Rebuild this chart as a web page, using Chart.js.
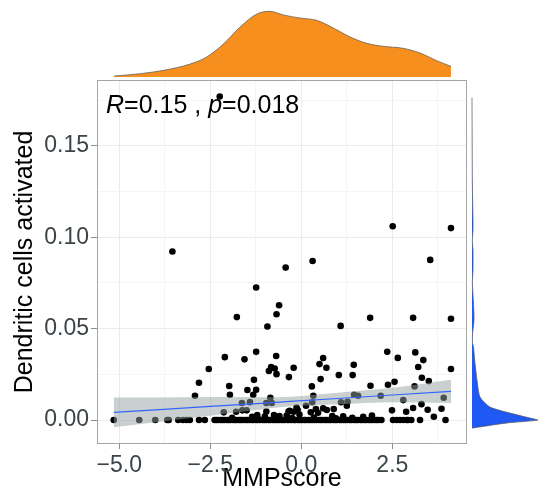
<!DOCTYPE html>
<html>
<head>
<meta charset="utf-8">
<title>MMPscore vs Dendritic cells activated</title>
<script src="https://cdn.jsdelivr.net/npm/chart.js@4.4.0/dist/chart.umd.min.js"></script>
<style>
    html, body { margin: 0; padding: 0; background: #fff; }
    #wrap { position: relative; width: 538px; height: 504px; overflow: hidden; }
    #wrap canvas { position: absolute; }
    #mainChart { left: 0; top: 0; }
    #topChart { left: 97px; top: 0; }
    #sideChart { left: 471px; top: 80px; }
</style>
</head>
<body>
<div id="wrap">
    <canvas id="mainChart" width="538" height="504"></canvas>
    <canvas id="topChart" width="370" height="77"></canvas>
    <canvas id="sideChart" width="67" height="364"></canvas>
</div>
<script>
// Scatter: samples (MMPscore, Dendritic cells activated)
const pointsX = [
    -2.24, -3.54, 2.51, 4.11, -0.43, 0.31, 3.54, -1.24, -0.61, -0.68, -1.77, -0.93, 1.08, 1.89, 3.07, 4.11,
    -2.10, -1.56, -1.24, -0.69, -2.54, -0.83, -0.73, -0.89, -0.68, -0.34, -2.81, -1.30, -1.98, -2.92, -1.96,
    -1.48, -1.24, -1.32, -0.85, -1.63, -1.41, -0.96, -0.81,
    2.36, 2.65, 3.13, 3.35, 3.21, 4.11, 0.60, 0.50, 0.69, -0.21, 0.53, 1.03, 1.44, 1.41, 0.29, 0.33, 1.90,
    2.38, 2.56, 3.11, 3.31, 3.50, 1.45, 1.56, 2.18, 2.80, 3.91, 1.09, 1.27, 1.25, 0.30, 0.13, 3.30, 3.07,
    3.47, 3.85, 2.49, 2.88, 3.64, 1.94,
    -2.13, -1.79, -1.62, -1.50, -1.21, -0.96, -0.35, 0.60, 0.89, -0.32, -0.21, -0.10, -0.13, 0.26, 0.46,
    0.40, 0.70, -0.60, -0.40, -1.00, -0.75, -1.35, -0.05, 0.85, 1.15, 1.70,
    -5.15, -4.45, -4.01, -3.68, -3.64, -3.38, -3.25, -3.15, -3.06, -2.81, -2.65,
    -2.38, -2.33, -2.28, -2.21, -2.16, -2.11, -2.04, -1.99, -1.94, -1.87, -1.82, -1.77, -1.70, -1.66, -1.60,
    -1.53, -1.48, -1.42, -1.35, -1.31, -1.24, -1.19, -1.13, -1.06, -1.01, -0.96, -0.89, -0.85, -0.78, -0.72,
    -0.67, -0.62, -0.55, -0.50, -0.45, -0.38, -0.33, -0.27, -0.20, -0.16, -0.09, -0.04, 0.02, 0.08, 0.12,
    0.19, 0.25, 0.30, 0.36, 0.41, 0.48, 0.53, 0.58, 0.65, 0.70, 0.76, 0.81, 0.88, 0.93, 0.98, 1.05, 1.10,
    1.16, 1.21, 1.27, 1.33, 1.38, 1.45, 1.50, 1.55, 1.62, 1.67, 1.73, 1.78, 1.85, 1.90, 1.95, 2.02, 2.07,
    2.13, 2.20, 2.52, 2.62, 2.71, 2.80, 2.89, 2.93, 3.02, 3.26, 3.96,
    -1.90, -1.20, -0.70, -0.25, 0.35, 0.95, 1.40
];
const pointsY = [
    0.177, 0.0922, 0.106, 0.105, 0.0834, 0.087, 0.0876, 0.0725, 0.0628, 0.0579, 0.0563, 0.0512, 0.0515, 0.0559, 0.0559, 0.0554,
    0.0344, 0.0332, 0.0373, 0.0350, 0.0279, 0.0290, 0.0282, 0.0268, 0.0251, 0.0235, 0.0204, 0.0220, 0.0186, 0.0133, 0.0138,
    0.0164, 0.0166, 0.0138, 0.0122, 0.0093, 0.0098, 0.0093, 0.0093,
    0.0373, 0.0340, 0.0370, 0.0328, 0.0290, 0.0279, 0.0339, 0.0306, 0.0286, 0.0286, 0.0224, 0.0246, 0.0302, 0.0246, 0.0184, 0.0133, 0.0188,
    0.0193, 0.0209, 0.0184, 0.0231, 0.0213, 0.0138, 0.0133, 0.0133, 0.0109, 0.0122, 0.0097, 0.0100, 0.0078, 0.0097, 0.0078, 0.0087, 0.0066,
    0.0056, 0.0062, 0.0053, 0.0045, 0.0018, 0.0025,
    0.0042, 0.0045, 0.0053, 0.0053, 0.0027, 0.0047, 0.0047, 0.0064, 0.0060, 0.0050, 0.0045, 0.0055, 0.0068, 0.0042, 0.0040,
    0.0060, 0.0055, 0.0022, 0.0025, 0.0020, 0.0028, 0.0018, 0.0030, 0.0022, 0.0020, 0.0018,
    0, 0, 0, 0, 0, 0, 0, 0, 0, 0, 0,
    0, 0, 0, 0, 0, 0, 0, 0, 0, 0, 0, 0, 0, 0, 0,
    0, 0, 0, 0, 0, 0, 0, 0, 0, 0, 0, 0, 0, 0, 0,
    0, 0, 0, 0, 0, 0, 0, 0, 0, 0, 0, 0, 0, 0, 0,
    0, 0, 0, 0, 0, 0, 0, 0, 0, 0, 0, 0, 0, 0, 0, 0, 0,
    0, 0, 0, 0, 0, 0, 0, 0, 0, 0, 0, 0, 0, 0, 0, 0, 0,
    0, 0, 0, 0, 0, 0, 0, 0, 0, 0, 0,
    0.0012, 0.0010, 0.0014, 0.0011, 0.0013, 0.0010, 0.0012
];

// Linear fit with its confidence band
const fitX = [-5.15, -4.0, -2.5, -1.0, -0.3, 1.0, 2.5, 4.11];
const fitY = [0.0042, 0.0056, 0.0075, 0.0093, 0.0102, 0.0118, 0.0137, 0.0157];
const bandLo = [-0.0040, -0.0012, 0.0024, 0.0061, 0.0076, 0.0086, 0.0098, 0.0093];
const bandHi = [0.0124, 0.0124, 0.0126, 0.0125, 0.0128, 0.0150, 0.0176, 0.0220];

// Marginal density of MMPscore (top)
const topDensX = [-5.14, -4.42, -3.78, -3.05, -2.60, -2.14, -1.68, -1.22, -0.86, -0.49, -0.04, 0.42, 0.88, 1.34, 1.80, 2.25, 2.80, 3.26, 3.72, 4.11];
const topDens = [0.003, 0.010, 0.020, 0.039, 0.060, 0.099, 0.150, 0.189, 0.197, 0.186, 0.177, 0.170, 0.147, 0.120, 0.101, 0.092, 0.086, 0.072, 0.049, 0.032];

// Marginal density of Dendritic cells activated (right)
const sideVals = [0.1763, 0.130, 0.1095, 0.104, 0.098, 0.093, 0.082, 0.075, 0.064, 0.0548, 0.047, 0.042, 0.040, 0.0312, 0.0219, 0.0126, 0.0071, 0.0038, 0.0011, 0.0, -0.0016, -0.0044];
const sideDens = [0, 0.001, 0.003, 0.003, 0.001, 0.003, 0.003, 0.001, 0.0045, 0.006, 0.0015, 0.0015, 0.0045, 0.009, 0.015, 0.024, 0.054, 0.114, 0.174, 0.198, 0.105, 0];

// Axes
const xTicks = [-5.0, -2.5, 0.0, 2.5];
const xTickLabels = ['\u22125.0', '\u22122.5', '0.0', '2.5'];
const xGrid = [-5.0, -3.75, -2.5, -1.25, 0.0, 1.25, 2.5, 3.75];
const yTicks = [0, 0.05, 0.10, 0.15];
const yTickLabels = ['0.00', '0.05', '0.10', '0.15'];
const yGrid = [0, 0.025, 0.05, 0.075, 0.10, 0.125, 0.15, 0.175];

const X_MIN = -5.61, X_MAX = 4.55;
const Y_MIN = -0.0131, Y_MAX = 0.186;

Chart.defaults.font.family = '"Liberation Sans", Arial, sans-serif';

const near = (a, b) => Math.abs(a - b) < 1e-6;
const isMajor = (list, v) => list.some(t => near(t, v));

// Panel border + correlation label
const panelDecor = {
    id: 'panelDecor',
    afterDraw(chart) {
        const { ctx, chartArea: a } = chart;
        ctx.save();
        ctx.strokeStyle = '#a6a6a6';
        ctx.lineWidth = 1;
        ctx.strokeRect(a.left + 0.5, a.top + 0.5, a.width - 1, a.height - 1);

        const parts = [
            ['R', 'italic'],
            ['=0.15 , ', 'normal'],
            ['p', 'italic'],
            ['=0.018', 'normal']
        ];
        let x = a.left + 9;
        const y = a.top + 33;
        ctx.fillStyle = '#000';
        ctx.textBaseline = 'alphabetic';
        parts.forEach(([t, style]) => {
            ctx.font = `${style} 25px "Liberation Sans", Arial, sans-serif`;
            ctx.fillText(t, x, y);
            x += ctx.measureText(t).width;
        });
        ctx.restore();
    }
};

new Chart(document.getElementById('mainChart'), {
    type: 'scatter',
    data: {
        datasets: [
            {
                type: 'line',
                label: 'fit',
                data: fitX.map((x, i) => ({ x, y: fitY[i] })),
                borderColor: '#3366ff',
                borderWidth: 1.2,
                pointRadius: 0,
                fill: false,
                order: 0
            },
            {
                type: 'line',
                label: 'band upper',
                data: fitX.map((x, i) => ({ x, y: bandHi[i] })),
                borderWidth: 0,
                pointRadius: 0,
                cubicInterpolationMode: 'monotone',
                backgroundColor: 'rgba(150, 162, 160, 0.5)',
                fill: '+1',
                order: 1
            },
            {
                type: 'line',
                label: 'band lower',
                data: fitX.map((x, i) => ({ x, y: bandLo[i] })),
                borderWidth: 0,
                pointRadius: 0,
                cubicInterpolationMode: 'monotone',
                fill: false,
                order: 1
            },
            {
                label: 'samples',
                data: pointsX.map((x, i) => ({ x, y: pointsY[i] })),
                backgroundColor: '#000',
                borderWidth: 0,
                pointRadius: 3.3,
                order: 2
            }
        ]
    },
    options: {
        responsive: false,
        animation: false,
        events: [],
        layout: { padding: { top: 80, right: 71, left: 0, bottom: 0 } },
        plugins: {
            legend: { display: false },
            tooltip: { enabled: false }
        },
        scales: {
            x: {
                type: 'linear',
                min: X_MIN,
                max: X_MAX,
                afterBuildTicks: s => { s.ticks = xGrid.map(v => ({ value: v })); },
                afterFit: s => { s.height = 60; },
                border: { display: false },
                grid: {
                    color: c => isMajor(xTicks, c.tick.value) ? '#ebebeb' : '#f5f5f5',
                    tickColor: c => isMajor(xTicks, c.tick.value) ? '#8c8c8c' : 'rgba(0,0,0,0)',
                    tickLength: 5
                },
                ticks: {
                    autoSkip: false,
                    maxRotation: 0,
                    padding: 3,
                    color: '#3b4448',
                    font: { size: 23 },
                    callback: v => {
                        const i = xTicks.findIndex(t => near(t, v));
                        return i >= 0 ? xTickLabels[i] : '';
                    }
                },
                title: {
                    display: true,
                    text: 'MMPscore',
                    color: '#000',
                    font: { size: 25 },
                    padding: { top: 0, bottom: 10 }
                }
            },
            y: {
                type: 'linear',
                min: Y_MIN,
                max: Y_MAX,
                afterBuildTicks: s => { s.ticks = yGrid.map(v => ({ value: v })); },
                afterFit: s => { s.width = 97; },
                border: { display: false },
                grid: {
                    color: c => isMajor(yTicks, c.tick.value) ? '#ebebeb' : '#f5f5f5',
                    tickColor: c => isMajor(yTicks, c.tick.value) ? '#8c8c8c' : 'rgba(0,0,0,0)',
                    tickLength: 6
                },
                ticks: {
                    autoSkip: false,
                    padding: 2,
                    color: '#3b4448',
                    font: { size: 23 },
                    callback: v => {
                        const i = yTicks.findIndex(t => near(t, v));
                        return i >= 0 ? yTickLabels[i] : '';
                    }
                },
                title: {
                    display: true,
                    text: 'Dendritic cells activated',
                    color: '#000',
                    font: { size: 25 },
                    padding: { top: 10, bottom: 0 }
                }
            }
        }
    },
    plugins: [panelDecor]
});

// Top marginal density
new Chart(document.getElementById('topChart'), {
    type: 'line',
    data: {
        datasets: [{
            data: topDensX.map((x, i) => ({ x, y: topDens[i] })),
            fill: 'origin',
            backgroundColor: '#f78f1e',
            borderColor: '#555',
            borderWidth: 0.7,
            pointRadius: 0,
            cubicInterpolationMode: 'monotone'
        }]
    },
    options: {
        responsive: false,
        animation: false,
        events: [],
        layout: { padding: 0 },
        plugins: { legend: { display: false }, tooltip: { enabled: false } },
        scales: {
            x: { type: 'linear', display: false, min: X_MIN, max: X_MAX },
            y: { display: false, min: 0, max: 0.231 }
        }
    }
});

// Right marginal density
new Chart(document.getElementById('sideChart'), {
    type: 'scatter',
    data: {
        datasets: [{
            data: sideVals.map((v, i) => ({ x: sideDens[i], y: v })),
            showLine: true,
            fill: 'shape',
            backgroundColor: '#1f58f2',
            borderColor: '#555',
            borderWidth: 0.7,
            pointRadius: 0,
            tension: 0.2
        }]
    },
    options: {
        responsive: false,
        animation: false,
        events: [],
        layout: { padding: 0 },
        plugins: { legend: { display: false }, tooltip: { enabled: false } },
        scales: {
            x: { type: 'linear', display: false, min: -0.003, max: 0.198 },
            y: { type: 'linear', display: false, min: Y_MIN, max: Y_MAX }
        }
    }
});
</script>
</body>
</html>
